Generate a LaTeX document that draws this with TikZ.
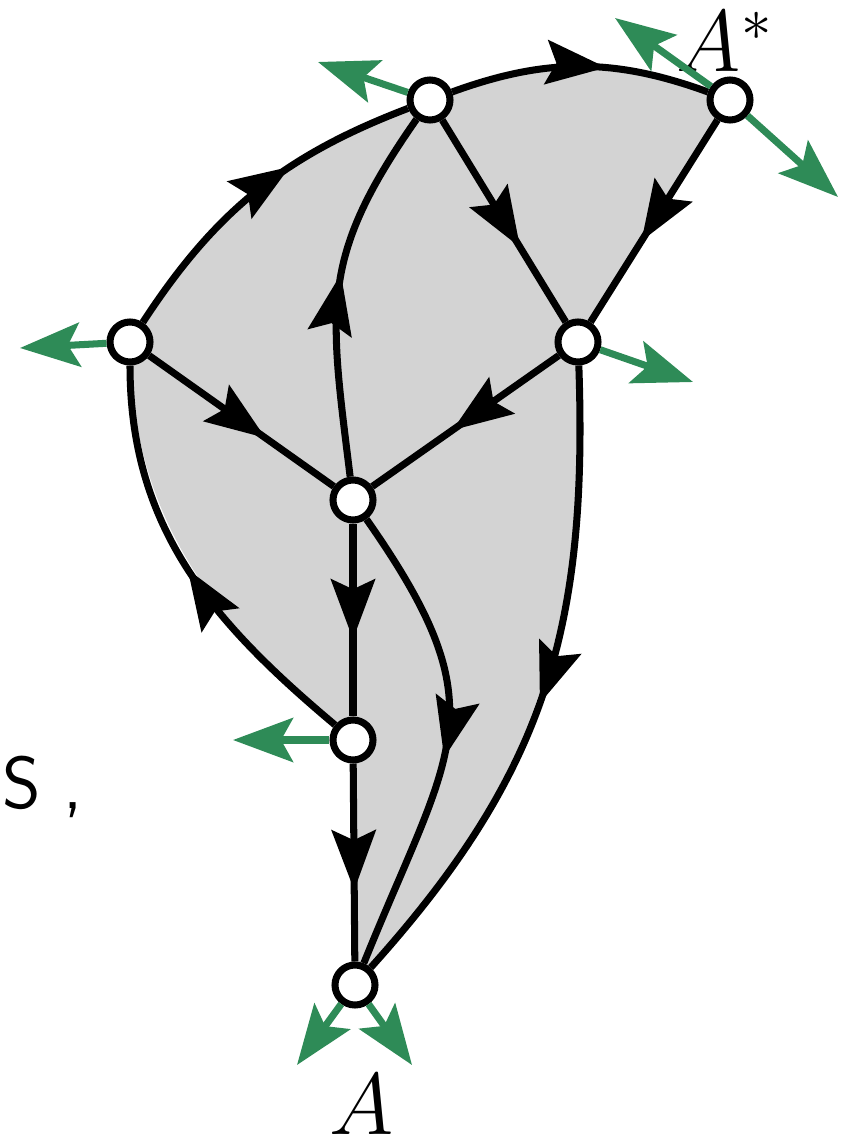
\documentclass[tikz,border=0pt]{standalone}
\usetikzlibrary{arrows.meta,decorations.markings,backgrounds}
\definecolor{leafgreen}{RGB}{46,139,87}
\definecolor{facegray}{RGB}{211,211,211}

\begin{document}
\begin{tikzpicture}
\tikzstyle{vx}=[draw,circle,fill=white,line width=2pt,minimum size=0.40cm,inner sep=0pt]
\tikzstyle{push}=[draw=leafgreen,line width=2pt,-{Stealth[length=0.6cm,width=0.44cm,inset=0.12cm]}]
\tikzset{flow/.style={draw,line width=2pt,postaction={decorate},
   decoration={markings,mark=at position #1 with {\arrow{Stealth[length=0.6cm,width=0.44cm,inset=0.1cm]}}}},
   flow/.default=0.6}
   \useasboundingbox (0,0) rectangle (8.44,-11.35);

   \draw (4.30,-1.00) node (t) [vx] {};
   \draw (7.30,-1.00) node (as) [vx] {};
   \draw (1.30,-3.42) node (l) [vx] {};
   \draw (5.78,-3.42) node (r) [vx] {};
   \draw (3.53,-5.00) node (c) [vx] {};
   \draw (3.53,-7.40) node (d) [vx] {};
   \draw (3.55,-9.85) node (a) [vx] {};

   \node (aslabel) at (7.25,-0.42) {\fontsize{24}{28}\selectfont$A^*$};
   \node (alabel) at (3.62,-11.05) {\fontsize{24}{28}\selectfont$A$};
   \node (s) [anchor=base west,inner sep=0pt] at (0.02,-8.08) {\fontsize{21}{24}\selectfont\sffamily S\hspace{0.22cm},};

   \begin{pgfonlayer}{background}
   \fill [facegray] (l.center) to[bend left=18] (t.center) to[bend left=20] (as.center)
      -- (r.center) to[out=-88,in=48,looseness=1.05] (a.center) -- (d.center)
      to[out=140,in=-90] (l.center) -- cycle;
   \end{pgfonlayer}

   \path [flow=0.62] (l) to[bend left=18] (t);
   \path [flow=0.6] (t) to[bend left=20] (as);
   \path [flow=0.63] (t) -- (r);
   \path [flow] (as) -- (r);
   \path [flow=0.57] (r) -- (c);
   \path [flow=0.63] (l) -- (c);
   \path [flow=0.54] (c) to[out=97,in=-125,looseness=1.2] (t);
   \path [flow] (c) -- (d);
   \path [flow=0.5] (d) to[out=140,in=-90] (l);
   \path [flow=0.54] (c) to[out=-55,in=68,looseness=1.35] (a);
   \path [flow=0.52] (r) to[out=-88,in=48,looseness=1.05] (a);
   \path [flow=0.64] (d) -- (a);

   \coordinate (tq) at (3.18,-0.62);
   \coordinate (asq1) at (6.15,-0.18);
   \coordinate (asq2) at (8.38,-1.97);
   \coordinate (lq) at (0.20,-3.48);
   \coordinate (rq) at (6.93,-3.82);
   \coordinate (dq) at (2.33,-7.40);
   \coordinate (aq1) at (2.97,-10.65);
   \coordinate (aq2) at (4.12,-10.65);
   \path [push] (t) -- (tq);
   \path [push] (as) -- (asq1);
   \path [push] (as) -- (asq2);
   \path [push] (l) -- (lq);
   \path [push] (r) -- (rq);
   \path [push] (d) -- (dq);
   \path [push] (a) -- (aq1);
   \path [push] (a) -- (aq2);
\end{tikzpicture}
\end{document}
